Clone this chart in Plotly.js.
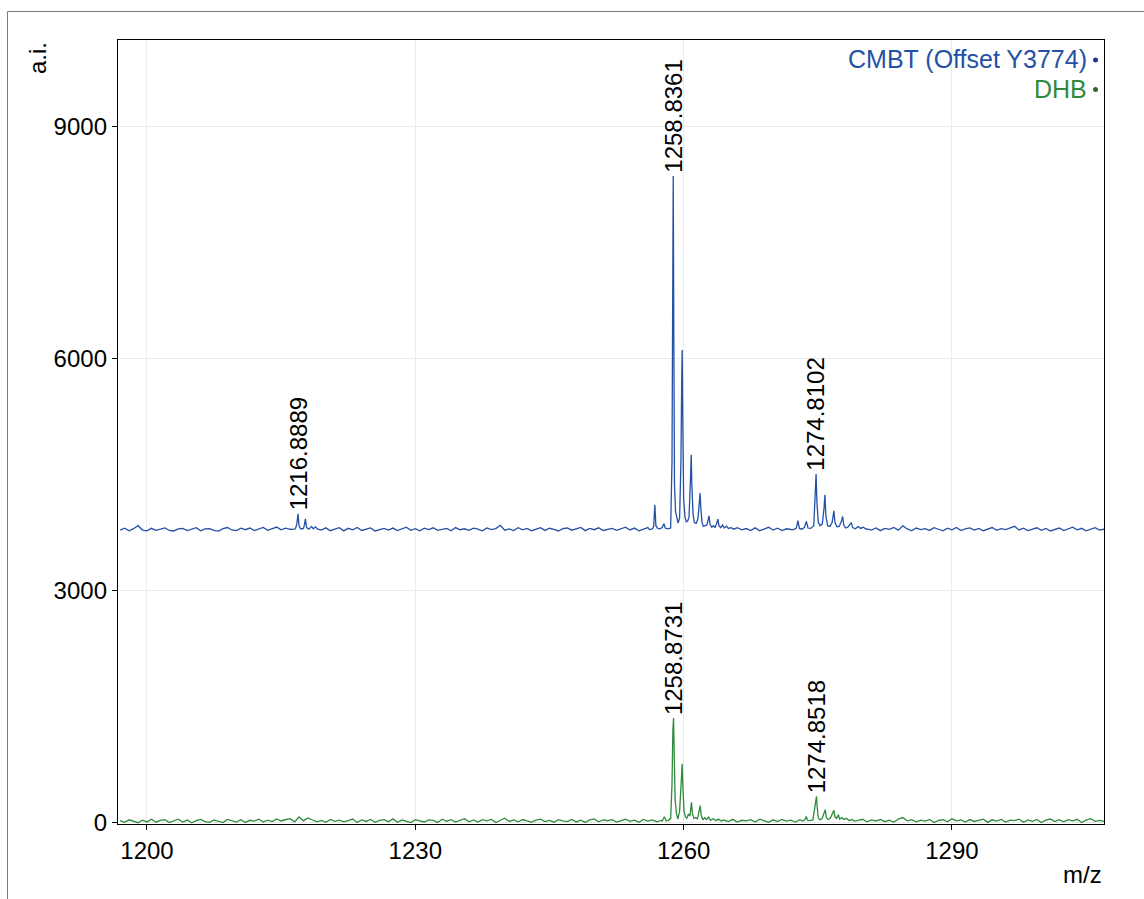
<!DOCTYPE html>
<html>
<head>
<meta charset="utf-8">
<script src="https://cdn.plot.ly/plotly-3.0.1.min.js"></script>
<style>
  html, body { margin: 0; padding: 0; background: #ffffff; }
  #chart { width: 1144px; height: 899px; }
</style>
</head>
<body>
<div id="chart"></div>
<script>
// ---------------- DATA ----------------
const CMBT_OFFSET = 3774;           // "Offset Y3774"
const MZ_START = 1197.0;            // baseline sampling grid
const MZ_STEP = 0.5;

// CMBT baseline readings on the grid (null = covered by a peak cluster)
const cmbtNoise = [
  12, 38, 5, 31, 70, 14, 3, 36, 9, 27,
  41, 8, 2, 29, 35, 6, 22, 44, 4, 30,
  33, 10, 1, 32, 46, 15, 7, 37, 18, 40,
  6, 28, 48, 11, 34, 52, 16, 39, 24, null,
  null, null, null, null, null, 13, 42, 5, 27, 45,
  3, 36, 17, 47, 8, 25, 41, 2, 21, 34,
  14, 39, 6, 28, 50, 10, 31, 4, 37, 19,
  43, 9, 24, 35, 5, 46, 18, 30, 11, 38,
  26, 3, 42, 20, 33, 75, 12, 29, 7, 44,
  17, 34, 5, 25, 45, 9, 37, 21, 2, 31,
  40, 12, 27, 48, 6, 35, 18, 43, 8, 26,
  36, 10, 30, 50, 15, 39, 4, 28, 46, null,
  null, null, null, null, null, null, null, null, null, null,
  null, null, null, null, null, null, null, null, 45, 16,
  33, 8, 42, 5, 27, 49, 13, 38, 7, 30,
  21, null, null, null, null, null, null, null, null, null,
  null, null, null, null, null, null, null, 29, 14, 41,
  6, 35, 22, 47, 12, 68, 28, 4, 40, 19,
  31, 9, 44, 24, 3, 37, 16, 48, 7, 29,
  42, 13, 34, 5, 25, 46, 10, 32, 20, 39,
  62, 15, 37, 6, 28, 43, 11, 35, 2, 26,
  40, 8, 31, 50, 17, 36, 4, 27, 44, 12,
  24
];

// DHB baseline readings on the grid (null = covered by a peak cluster)
const dhbNoise = [
  30, 8, 41, 19, 4, 37, 14, 48, 10, 33,
  44, 6, 27, 50, 12, 38, 3, 31, 46, 17,
  9, 40, 22, 5, 47, 29, 11, 43, 7, 35,
  24, 49, 13, 36, 18, 52, 26, 42, 55, 15,
  78, 28, 65, 39, 16, 34, 8, 46, 21, 37,
  14, 32, 51, 6, 40, 20, 45, 9, 33, 43,
  17, 53, 10, 38, 25, 5, 44, 30, 13, 41,
  35, 7, 49, 23, 42, 12, 31, 56, 16, 39,
  11, 44, 27, 47, 6, 34, 62, 20, 40, 15,
  45, 28, 8, 38, 50, 18, 33, 10, 43, 26,
  19, 47, 14, 36, 7, 41, 52, 16, 39, 29,
  43, 12, 30, 48, 21, 37, 9, 45, 25, 40,
  15, 34, null, null, null, null, null, null, null, null,
  null, null, null, null, null, 38, 19, 47, 11, 35,
  27, 44, 13, 50, 31, 8, 41, 18, 46, 24,
  37, 12, 42, null, null, null, null, null, null, null,
  null, null, null, null, null, 33, 48, 15, 40, 26,
  46, 17, 36, 9, 51, 70, 28, 43, 14, 38,
  25, 47, 6, 33, 42, 16, 54, 27, 39, 11,
  44, 20, 35, 49, 8, 41, 24, 46, 13, 37,
  30, 50, 10, 40, 22, 45, 5, 36, 51, 18,
  42, 15, 44, 28, 48, 7, 38, 55, 21, 34,
  20
];

// CMBT peak clusters (m/z, intensity before offset)
const cmbtC1Mz  = [1216.3, 1216.6, 1216.75, 1216.8889, 1217.0, 1217.2, 1217.5, 1217.6, 1217.71, 1217.85, 1218.1, 1218.4, 1218.6, 1218.85, 1219.05, 1219.3];
const cmbtC1Int = [22, 30, 90, 224, 70, 28, 35, 80, 160, 45, 25, 60, 30, 55, 28, 20];

const cmbtC2Mz  = [1256.2, 1256.5, 1256.65, 1256.78, 1256.9, 1257.1, 1257.35, 1257.6, 1257.8, 1257.95, 1258.2, 1258.55, 1258.7, 1258.78, 1258.8361, 1258.9, 1258.98, 1259.1, 1259.25, 1259.38, 1259.55, 1259.7, 1259.78, 1259.84, 1259.9, 1260.0, 1260.15, 1260.3, 1260.45, 1260.6, 1260.75, 1260.85, 1260.92, 1261.05, 1261.2, 1261.4, 1261.6, 1261.75, 1261.84, 1261.92, 1262.05, 1262.2, 1262.4, 1262.6, 1262.75, 1262.84, 1262.95, 1263.15, 1263.35, 1263.5, 1263.7, 1263.83, 1263.95, 1264.15, 1264.35, 1264.55, 1264.8, 1265.0, 1265.3, 1265.6];
const cmbtC2Int = [20, 28, 60, 340, 70, 35, 30, 45, 96, 40, 30, 40, 900, 3400, 4592, 2600, 600, 250, 150, 105, 170, 900, 1900, 2343, 1500, 420, 180, 120, 130, 180, 620, 986, 600, 220, 110, 100, 160, 380, 491, 300, 120, 60, 75, 80, 150, 198, 90, 50, 70, 45, 100, 155, 70, 45, 80, 40, 65, 35, 45, 25];

const cmbtC3Mz  = [1272.3, 1272.6, 1272.78, 1272.95, 1273.2, 1273.5, 1273.72, 1273.9, 1274.2, 1274.55, 1274.7, 1274.8102, 1274.9, 1275.05, 1275.25, 1275.5, 1275.7, 1275.8, 1275.9, 1276.1, 1276.35, 1276.6, 1276.8, 1276.92, 1277.15, 1277.4, 1277.65, 1277.78, 1277.9, 1278.1, 1278.35, 1278.6, 1278.75, 1278.9, 1279.2, 1279.5, 1279.8, 1280.1, 1280.4];
const cmbtC3Int = [20, 40, 137, 35, 25, 45, 125, 40, 35, 70, 450, 737, 380, 120, 70, 90, 300, 469, 200, 70, 60, 110, 262, 110, 55, 60, 130, 189, 80, 40, 50, 80, 110, 45, 30, 60, 35, 50, 25];

// DHB peak clusters (m/z, intensity)
const dhbC1Mz  = [1257.6, 1257.85, 1258.05, 1258.3, 1258.55, 1258.7, 1258.8, 1258.8731, 1258.95, 1259.05, 1259.2, 1259.35, 1259.55, 1259.72, 1259.84, 1259.93, 1260.05, 1260.2, 1260.35, 1260.55, 1260.7, 1260.88, 1260.98, 1261.15, 1261.35, 1261.55, 1261.75, 1261.86, 1261.96, 1262.15, 1262.35, 1262.55, 1262.8, 1263.0, 1263.3, 1263.6, 1263.9, 1264.2];
const dhbC1Int = [25, 80, 30, 35, 60, 500, 1200, 1357, 900, 300, 120, 50, 150, 500, 766, 420, 150, 80, 60, 115, 90, 266, 120, 60, 70, 55, 150, 224, 100, 40, 70, 45, 75, 35, 55, 30, 50, 25];

const dhbC2Mz  = [1273.3, 1273.55, 1273.7, 1273.85, 1274.1, 1274.45, 1274.65, 1274.8518, 1274.93, 1275.05, 1275.25, 1275.5, 1275.7, 1275.84, 1275.95, 1276.15, 1276.4, 1276.65, 1276.8, 1276.92, 1277.1, 1277.3, 1277.45, 1277.7, 1277.9, 1278.2, 1278.5, 1278.8, 1279.1];
const dhbC2Int = [25, 40, 85, 35, 30, 40, 200, 344, 210, 70, 40, 60, 130, 172, 70, 45, 60, 120, 163, 80, 60, 107, 50, 70, 45, 60, 30, 45, 25];

// Peak labels
const cmbtLabelMz   = [1216.8889, 1258.8361, 1274.8102];
const cmbtLabelInt  = [224, 4592, 737];
const dhbLabelMz    = [1258.8731, 1274.8518];
const dhbLabelInt   = [1357, 344];

const seriesNames = ['CMBT (Offset Y3774)', 'DHB'];
const xTicks = [1200, 1230, 1260, 1290];
const yTicks = [0, 3000, 6000, 9000];

// ---------------- BUILD ----------------
function buildSeries(noise, clusters, offset) {
  const pts = [];
  noise.forEach((v, i) => { if (v !== null) pts.push([MZ_START + MZ_STEP * i, v]); });
  clusters.forEach(c => c[0].forEach((m, j) => pts.push([m, c[1][j]])));
  pts.sort((a, b) => a[0] - b[0]);
  return { x: pts.map(p => p[0]), y: pts.map(p => p[1] + offset) };
}

const cmbt = buildSeries(cmbtNoise, [[cmbtC1Mz, cmbtC1Int], [cmbtC2Mz, cmbtC2Int], [cmbtC3Mz, cmbtC3Int]], CMBT_OFFSET);
const dhb  = buildSeries(dhbNoise, [[dhbC1Mz, dhbC1Int], [dhbC2Mz, dhbC2Int]], 0);

const BLUE = '#2450a6', GREEN = '#2f8a3c';
const FONT = 'Liberation Sans, Arial, Helvetica, sans-serif';

const traces = [
  { x: cmbt.x, y: cmbt.y, type: 'scatter', mode: 'lines', name: seriesNames[0],
    line: { color: BLUE, width: 1.3 }, hoverinfo: 'skip' },
  { x: dhb.x, y: dhb.y, type: 'scatter', mode: 'lines', name: seriesNames[1],
    line: { color: GREEN, width: 1.3 }, hoverinfo: 'skip' }
];

const annotations = [];
function peakLabel(mz, yVal) {
  annotations.push({
    x: mz, y: yVal, xref: 'x', yref: 'y', text: mz.toFixed(4),
    textangle: -90, showarrow: false, xanchor: 'center', yanchor: 'bottom', yshift: 1,
    font: { family: FONT, size: 24, color: '#000000' }
  });
}
cmbtLabelMz.forEach((m, i) => peakLabel(m, cmbtLabelInt[i] + CMBT_OFFSET));
dhbLabelMz.forEach((m, i) => peakLabel(m, dhbLabelInt[i]));

// legend (text right, dot after text)
const W = 1144, H = 899, L = 118, R = 40, T = 40, B = 75;
const pw = W - L - R, ph = H - T - B;
const px2x = p => (p - L) / pw;
const px2y = p => (H - B - p) / ph;

annotations.push({ x: px2x(1089), y: px2y(59), xref: 'paper', yref: 'paper', xanchor: 'right', yanchor: 'middle',
  text: seriesNames[0], showarrow: false, font: { family: FONT, size: 25, color: BLUE } });
annotations.push({ x: px2x(1089), y: px2y(89), xref: 'paper', yref: 'paper', xanchor: 'right', yanchor: 'middle',
  text: seriesNames[1], showarrow: false, font: { family: FONT, size: 25, color: GREEN } });
// axis titles
annotations.push({ x: px2x(37), y: px2y(58), xref: 'paper', yref: 'paper', xanchor: 'center', yanchor: 'middle',
  text: 'a.i.', textangle: -90, showarrow: false, font: { family: FONT, size: 24, color: '#000' } });
annotations.push({ x: 1, y: px2y(874), xref: 'paper', yref: 'paper', xanchor: 'right', yanchor: 'middle',
  text: 'm/z', showarrow: false, font: { family: FONT, size: 24, color: '#000' } });

function dot(xp, yp, color) {
  return { type: 'circle', xref: 'paper', yref: 'paper', xsizemode: 'pixel', ysizemode: 'pixel',
    xanchor: px2x(xp), yanchor: px2y(yp), x0: -2.5, x1: 2.5, y0: -2.5, y1: 2.5,
    fillcolor: color, line: { width: 0 } };
}

const shapes = [
  dot(1095.5, 60, '#1c3c8c'),
  dot(1095.5, 89.5, '#2b6b30'),
  { type: 'rect', xref: 'paper', yref: 'paper', layer: 'below',
    x0: px2x(7.5), x1: px2x(1160), y0: px2y(915), y1: px2y(11.5),
    line: { color: '#7a7a7a', width: 1 }, fillcolor: 'rgba(0,0,0,0)' }
];

const axisCommon = {
  showline: true, linecolor: '#000000', linewidth: 1.2, mirror: true,
  ticks: 'outside', ticklen: 5, tickwidth: 1, tickcolor: '#000000',
  showgrid: true, gridcolor: '#ebebeb', gridwidth: 1, zeroline: false,
  tickfont: { family: FONT, size: 24, color: '#000000' }
};

const layout = {
  width: W, height: H,
  margin: { l: L, r: R, t: T, b: B, pad: 0 },
  paper_bgcolor: '#ffffff', plot_bgcolor: '#ffffff',
  showlegend: false,
  font: { family: FONT, size: 24, color: '#000' },
  xaxis: Object.assign({}, axisCommon, { range: [1196.76, 1307.0], tickmode: 'array', tickvals: xTicks,
    ticktext: xTicks.map(String) }),
  yaxis: Object.assign({}, axisCommon, { range: [-13, 10124], tickmode: 'array', tickvals: yTicks,
    ticktext: yTicks.map(String) }),
  annotations: annotations,
  shapes: shapes
};

Plotly.newPlot('chart', traces, layout, { displayModeBar: false, staticPlot: true });
</script>
</body>
</html>
